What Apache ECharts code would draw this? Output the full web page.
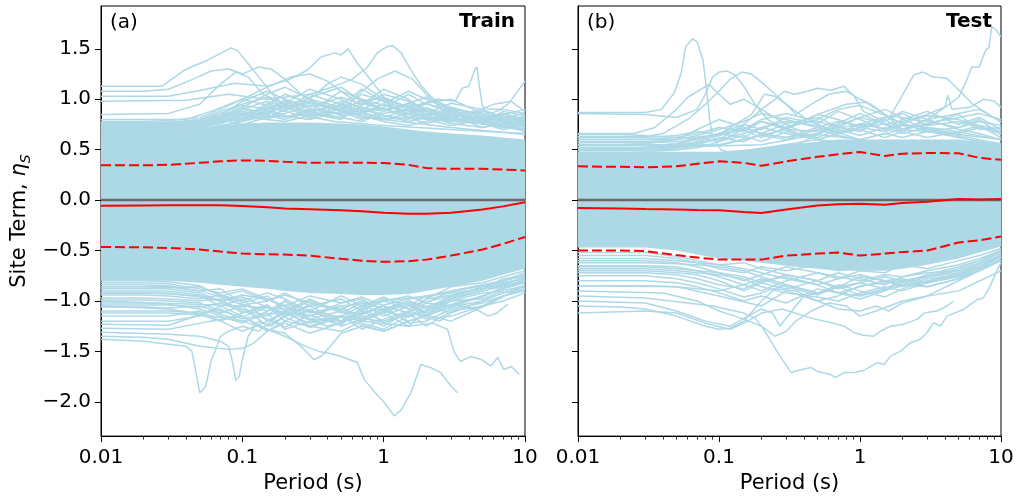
<!DOCTYPE html>
<html>
<head>
<meta charset="utf-8">
<script src="https://cdn.jsdelivr.net/npm/echarts@6/dist/echarts.min.js"></script>
<style>
  html, body { margin: 0; padding: 0; background: #fff; }
  #chart { width: 1018px; height: 499px; }
</style>
</head>
<body>
<div id="chart"></div>
<script>
// Shared period grid (s) used by the summary curves and the sampled site curves
const periods = [0.01, 0.02, 0.03, 0.05, 0.07, 0.1, 0.15, 0.2, 0.3, 0.5, 0.7, 1, 1.5, 2, 3, 5, 7, 10];

// Axis ticks
const xMajorTicks = [0.01, 0.1, 1, 10];
const xTickLabels = ['0.01', '0.1', '1', '10'];
const xMinorTicks = [0.02, 0.03, 0.04, 0.05, 0.06, 0.07, 0.08, 0.09,
                     0.2, 0.3, 0.4, 0.5, 0.6, 0.7, 0.8, 0.9,
                     2, 3, 4, 5, 6, 7, 8, 9];
const yTicks = [-2.0, -1.5, -1.0, -0.5, 0.0, 0.5, 1.0, 1.5];

// Panel (a): mean and mean ± one standard deviation
const trainMean  = [-0.055, -0.053, -0.052, -0.050, -0.052, -0.058, -0.070, -0.082, -0.090, -0.100, -0.110, -0.124, -0.135, -0.136, -0.125, -0.094, -0.062, -0.022];
const trainUpper = [0.345, 0.345, 0.350, 0.370, 0.385, 0.394, 0.390, 0.380, 0.370, 0.374, 0.370, 0.368, 0.350, 0.318, 0.310, 0.310, 0.303, 0.295];
const trainLower = [-0.464, -0.468, -0.474, -0.490, -0.510, -0.530, -0.537, -0.540, -0.550, -0.582, -0.600, -0.612, -0.606, -0.590, -0.550, -0.490, -0.434, -0.365];

// Panel (b): mean and mean ± one standard deviation
const testMean  = [-0.078, -0.082, -0.087, -0.092, -0.097, -0.100, -0.117, -0.127, -0.094, -0.054, -0.041, -0.037, -0.045, -0.028, -0.015, 0.010, 0.005, 0.011];
const testUpper = [0.335, 0.330, 0.325, 0.335, 0.360, 0.385, 0.370, 0.340, 0.385, 0.430, 0.455, 0.478, 0.437, 0.460, 0.467, 0.465, 0.420, 0.400];
const testLower = [-0.500, -0.500, -0.505, -0.545, -0.570, -0.590, -0.590, -0.590, -0.550, -0.530, -0.520, -0.550, -0.530, -0.515, -0.500, -0.420, -0.400, -0.360];

// Densely overlapped core of the site curves (upper / lower envelope)
const trainCoreTop    = [0.71, 0.71, 0.71, 0.72, 0.74, 0.76, 0.77, 0.77, 0.77, 0.76, 0.75, 0.73, 0.70, 0.68, 0.66, 0.64, 0.62, 0.60];
const trainCoreBottom = [-0.80, -0.80, -0.80, -0.82, -0.84, -0.86, -0.88, -0.90, -0.92, -0.93, -0.94, -0.94, -0.93, -0.90, -0.86, -0.80, -0.74, -0.68];
const testCoreTop     = [0.48, 0.48, 0.48, 0.48, 0.48, 0.48, 0.50, 0.52, 0.55, 0.58, 0.60, 0.60, 0.60, 0.60, 0.60, 0.60, 0.58, 0.55];
const testCoreBottom  = [-0.47, -0.47, -0.47, -0.50, -0.54, -0.58, -0.60, -0.62, -0.65, -0.68, -0.70, -0.70, -0.70, -0.68, -0.64, -0.58, -0.52, -0.46];

// Panel (a): individual site curves sampled on the period grid
const trainSites = [
  [0.77, 0.77, 0.77, 0.80, 0.88, 0.95, 1.02, 0.92, 0.98, 0.90, 1.05, 0.98, 0.85, 0.80, 0.85, 0.78, 0.80, 0.83],
  [0.74, 0.74, 0.75, 0.76, 0.80, 0.90, 0.86, 1.00, 0.92, 1.02, 0.95, 1.10, 1.00, 0.88, 0.78, 0.82, 0.85, 0.90],
  [0.72, 0.72, 0.72, 0.74, 0.78, 0.82, 0.96, 0.90, 1.05, 0.95, 0.88, 0.92, 1.05, 0.95, 0.90, 0.80, 0.75, 0.78],
  [0.70, 0.70, 0.70, 0.72, 0.82, 0.92, 0.85, 0.95, 0.88, 1.08, 1.00, 0.90, 0.85, 0.92, 0.82, 0.88, 0.82, 0.86],
  [0.73, 0.73, 0.74, 0.78, 0.86, 0.80, 0.94, 1.05, 0.96, 0.90, 0.98, 1.02, 0.92, 0.85, 0.88, 0.75, 0.78, 0.72],
  [0.71, 0.71, 0.71, 0.73, 0.76, 0.85, 0.92, 0.88, 0.82, 0.94, 1.10, 0.98, 0.90, 0.96, 0.86, 0.80, 0.86, 0.80],
  [0.75, 0.75, 0.76, 0.80, 0.84, 0.98, 1.08, 1.00, 0.90, 0.85, 0.92, 0.88, 0.96, 1.02, 0.92, 0.84, 0.80, 0.82],
  [0.69, 0.69, 0.70, 0.70, 0.74, 0.78, 0.84, 0.96, 1.10, 1.00, 0.90, 0.84, 0.80, 0.90, 0.80, 0.76, 0.88, 0.84],
  [0.72, 0.72, 0.72, 0.72, 0.78, 0.88, 0.82, 0.86, 0.94, 0.84, 0.86, 0.96, 1.08, 1.00, 0.90, 0.86, 0.80, 0.76],
  [0.70, 0.70, 0.70, 0.75, 0.82, 0.78, 0.90, 0.84, 0.80, 0.96, 0.88, 0.80, 0.82, 0.86, 0.96, 0.90, 0.82, 0.80],
  [0.68, 0.68, 0.69, 0.71, 0.72, 0.80, 0.88, 0.92, 0.86, 0.82, 0.78, 0.86, 0.90, 0.80, 0.74, 0.80, 0.72, 0.75],
  [0.70, 0.70, 0.71, 0.73, 0.80, 0.86, 0.80, 0.78, 0.84, 0.90, 0.84, 0.78, 0.74, 0.78, 0.84, 0.72, 0.76, 0.70],
  [0.78, 0.78, 0.79, 0.82, 0.90, 1.00, 0.94, 0.88, 1.02, 1.12, 0.98, 0.90, 0.94, 0.88, 0.80, 0.76, 0.72, 0.70],
  [0.74, 0.74, 0.74, 0.76, 0.84, 0.92, 1.05, 1.12, 1.00, 0.92, 0.86, 0.95, 0.88, 0.82, 0.92, 0.82, 0.86, 0.78],
  [0.72, 0.72, 0.73, 0.77, 0.80, 0.86, 0.90, 0.98, 0.86, 0.80, 0.94, 1.05, 0.98, 0.90, 0.84, 0.90, 0.80, 0.74],
  [0.71, 0.71, 0.71, 0.74, 0.80, 0.75, 0.82, 0.90, 0.98, 0.90, 0.82, 0.80, 0.86, 0.96, 1.00, 0.86, 0.78, 0.82],
  [0.76, 0.76, 0.76, 0.78, 0.82, 0.90, 0.98, 0.92, 0.86, 0.98, 0.92, 0.84, 0.78, 0.82, 0.78, 0.84, 0.90, 0.86],
  [0.70, 0.70, 0.70, 0.72, 0.76, 0.82, 0.88, 0.82, 0.90, 0.86, 0.96, 0.90, 0.82, 0.76, 0.82, 0.78, 0.74, 0.68],
  [0.73, 0.73, 0.73, 0.75, 0.78, 0.84, 0.80, 0.90, 0.96, 0.88, 0.80, 0.88, 0.96, 0.90, 0.86, 0.80, 0.84, 0.76],
  [0.75, 0.75, 0.75, 0.79, 0.86, 0.94, 0.90, 0.84, 0.80, 0.88, 1.00, 0.94, 0.86, 0.84, 0.76, 0.72, 0.76, 0.80],
  [0.71, 0.71, 0.72, 0.74, 0.78, 0.80, 0.86, 0.94, 0.88, 0.94, 0.86, 0.82, 0.90, 0.86, 0.78, 0.82, 0.78, 0.72],
  [0.74, 0.74, 0.74, 0.77, 0.82, 0.88, 0.84, 0.80, 0.88, 0.82, 0.90, 1.00, 0.92, 0.80, 0.86, 0.76, 0.70, 0.74],
  [-0.80, -0.80, -0.81, -0.85, -0.95, -0.90, -1.00, -0.92, -1.05, -0.98, -1.10, -1.00, -0.95, -1.02, -0.90, -0.85, -0.80, -0.72],
  [-0.84, -0.84, -0.85, -0.90, -0.88, -1.02, -0.95, -1.10, -0.98, -1.12, -1.02, -1.15, -1.05, -0.95, -0.92, -0.88, -0.78, -0.75],
  [-0.88, -0.88, -0.88, -0.92, -1.00, -1.08, -1.15, -1.00, -1.12, -1.05, -1.20, -1.10, -1.00, -1.08, -0.98, -0.90, -0.85, -0.80],
  [-0.92, -0.92, -0.93, -0.95, -1.05, -0.98, -1.20, -1.12, -1.22, -1.15, -1.05, -1.22, -1.12, -1.02, -1.05, -0.95, -0.88, -0.82],
  [-0.97, -0.97, -0.98, -1.00, -0.98, -1.12, -1.05, -1.20, -1.08, -1.25, -1.18, -1.08, -1.20, -1.15, -1.00, -0.92, -0.90, -0.85],
  [-1.02, -1.02, -1.03, -1.08, -1.15, -1.22, -1.10, -1.00, -1.18, -1.10, -1.22, -1.28, -1.15, -1.05, -1.12, -1.00, -0.92, -0.88],
  [-1.06, -1.06, -1.07, -1.05, -1.12, -1.05, -1.25, -1.15, -1.05, -1.20, -1.12, -1.05, -1.22, -1.20, -1.08, -1.02, -0.95, -0.90],
  [-1.10, -1.10, -1.10, -1.12, -1.08, -1.18, -1.12, -1.28, -1.20, -1.15, -1.28, -1.18, -1.10, -1.18, -1.15, -1.05, -1.00, -0.92],
  [-1.15, -1.15, -1.15, -1.10, -1.20, -1.30, -1.20, -1.10, -1.25, -1.30, -1.20, -1.12, -1.25, -1.10, -1.00, -0.98, -0.90, -0.85],
  [-1.20, -1.20, -1.20, -1.15, -1.05, -1.15, -1.30, -1.22, -1.32, -1.22, -1.10, -1.20, -1.12, -1.25, -1.10, -1.05, -0.95, -0.88],
  [-0.82, -0.82, -0.83, -0.88, -0.92, -0.88, -0.98, -1.05, -0.95, -1.02, -0.96, -1.05, -1.12, -0.98, -0.86, -0.82, -0.76, -0.70],
  [-0.86, -0.86, -0.87, -0.86, -0.94, -1.00, -0.92, -0.98, -1.10, -0.95, -1.05, -0.96, -1.08, -1.10, -0.95, -0.86, -0.82, -0.78],
  [-0.90, -0.90, -0.90, -0.94, -1.00, -0.96, -1.06, -1.14, -1.04, -1.08, -1.14, -1.04, -0.98, -0.96, -0.90, -0.84, -0.80, -0.74],
  [-0.94, -0.94, -0.95, -0.98, -0.94, -1.04, -1.10, -1.04, -1.15, -1.02, -0.98, -1.10, -1.16, -1.10, -0.98, -0.90, -0.84, -0.76],
  [-0.99, -0.99, -1.00, -1.02, -1.10, -1.16, -1.06, -1.12, -1.00, -1.10, -1.16, -1.12, -1.02, -1.12, -1.04, -0.96, -0.86, -0.80],
  [-1.04, -1.04, -1.04, -1.06, -1.02, -1.10, -1.18, -1.26, -1.14, -1.24, -1.06, -1.00, -1.08, -0.98, -0.94, -0.88, -0.82, -0.78],
  [-0.86, -0.86, -0.86, -0.90, -0.96, -1.04, -1.00, -0.94, -1.02, -1.08, -1.00, -1.08, -1.00, -1.06, -0.96, -0.90, -0.86, -0.80],
  [-1.12, -1.12, -1.12, -1.14, -1.20, -1.12, -1.04, -1.16, -1.26, -1.16, -1.24, -1.30, -1.20, -1.14, -1.06, -1.00, -0.92, -0.86],
  [-0.92, -0.92, -0.92, -0.96, -1.00, -0.94, -0.98, -1.06, -1.18, -1.20, -1.08, -0.98, -1.04, -1.14, -1.20, -1.06, -0.96, -0.84]
];

// Panel (a): strongly deviating site curves, [period, site term]
const trainOutliers = [
  [[0.01, 1.13], [0.027, 1.13], [0.039, 1.29], [0.057, 1.39], [0.067, 1.44], [0.083, 1.51], [0.093, 1.48], [0.109, 1.36], [0.136, 1.19], [0.168, 1.03], [0.21, 0.91], [0.29, 0.83], [0.45, 0.78], [1, 0.74], [3, 0.70], [10, 0.66]],
  [[0.01, 1.03], [0.03, 1.03], [0.051, 1.09], [0.088, 1.16], [0.15, 1.13], [0.21, 1.19], [0.29, 1.29], [0.36, 1.42], [0.45, 1.46], [0.5, 1.44], [0.56, 1.50], [0.65, 1.36], [0.77, 1.23], [0.91, 1.10], [1.12, 0.93], [1.5, 0.82], [3, 0.78], [10, 0.74]],
  [[0.01, 0.98], [0.04, 0.99], [0.08, 1.05], [0.15, 1.00], [0.3, 1.05], [0.45, 1.13], [0.6, 1.20], [0.77, 1.32], [0.9, 1.46], [1.05, 1.52], [1.16, 1.53], [1.33, 1.46], [1.56, 1.29], [1.83, 1.14], [2.15, 1.03], [2.53, 0.96], [3.16, 0.86], [5, 0.80], [10, 0.76]],
  [[0.01, 0.75], [0.1, 0.80], [0.3, 0.85], [1, 0.90], [1.8, 0.95], [2.4, 1.00], [3.2, 0.98], [3.6, 1.11], [4.0, 1.13], [4.4, 1.29], [4.57, 1.32], [4.75, 1.13], [5.0, 0.93], [5.6, 0.90], [6.7, 0.90], [7.7, 0.96], [10, 1.18]],
  [[0.01, 1.08], [0.02, 1.08], [0.03, 1.10], [0.045, 1.20], [0.06, 1.28], [0.08, 1.30], [0.1, 1.25], [0.13, 1.32], [0.16, 1.30], [0.2, 1.20], [0.26, 1.05], [0.35, 0.95], [0.5, 0.88], [1, 0.80], [3, 0.72], [10, 0.65]],
  [[0.01, 0.85], [0.03, 0.86], [0.05, 0.95], [0.07, 1.15], [0.09, 1.27], [0.11, 1.22], [0.14, 1.05], [0.2, 0.95], [0.3, 1.00], [0.4, 1.15], [0.5, 1.22], [0.7, 1.15], [1, 1.00], [1.5, 0.92], [3, 0.82], [10, 0.70]],
  [[0.01, 0.80], [0.04, 0.80], [0.06, 0.88], [0.1, 1.00], [0.15, 1.12], [0.22, 1.22], [0.3, 1.25], [0.4, 1.18], [0.6, 1.00], [0.9, 1.20], [1.2, 1.28], [1.6, 1.20], [2, 1.05], [2.6, 0.90], [4, 0.85], [6, 0.95], [8, 0.98], [10, 0.88]],
  [[0.01, -1.38], [0.02, -1.40], [0.03, -1.43], [0.04, -1.45], [0.044, -1.50], [0.05, -1.91], [0.055, -1.85], [0.06, -1.60], [0.065, -1.48], [0.07, -1.35], [0.08, -1.30], [0.1, -1.25], [0.13, -1.30], [0.16, -1.20], [0.2, -1.10], [0.3, -1.15], [0.5, -1.05], [1, -1.00], [2, -0.95], [5, -0.85], [10, -0.75]],
  [[0.01, -1.31], [0.03, -1.33], [0.05, -1.35], [0.07, -1.40], [0.08, -1.45], [0.085, -1.60], [0.09, -1.79], [0.095, -1.75], [0.1, -1.58], [0.11, -1.35], [0.13, -1.20], [0.16, -1.25], [0.2, -1.15], [0.3, -1.10], [0.5, -1.20], [0.8, -1.10], [1.5, -1.05], [3, -0.95], [10, -0.78]],
  [[0.01, -1.35], [0.02, -1.36], [0.03, -1.38], [0.05, -1.45], [0.08, -1.48], [0.1, -1.47], [0.12, -1.42], [0.15, -1.30], [0.2, -1.20], [0.3, -1.25], [0.5, -1.15], [1, -1.20], [2, -1.10], [5, -0.95], [10, -0.80]],
  [[0.01, -1.05], [0.03, -1.08], [0.06, -1.15], [0.1, -1.20], [0.15, -1.28], [0.2, -1.35], [0.28, -1.45], [0.35, -1.50], [0.42, -1.52], [0.5, -1.55], [0.65, -1.61], [0.73, -1.78], [0.91, -1.94], [1.0, -2.00], [1.19, -2.14], [1.33, -2.08], [1.56, -1.91], [1.83, -1.63], [2.15, -1.66], [2.53, -1.71], [2.98, -1.84], [3.33, -1.91]],
  [[0.01, -1.00], [0.1, -1.05], [0.3, -1.10], [0.7, -1.20], [1.5, -1.25], [2.2, -1.22], [2.83, -1.28], [3.16, -1.51], [3.5, -1.60], [4.15, -1.55], [4.9, -1.58], [5.75, -1.645], [6.4, -1.56], [7.1, -1.68], [8.0, -1.65], [9.1, -1.73]],
  [[0.01, -1.27], [0.03, -1.28], [0.06, -1.20], [0.1, -1.15], [0.15, -1.28], [0.2, -1.32], [0.26, -1.45], [0.32, -1.58], [0.36, -1.55], [0.42, -1.45], [0.5, -1.32], [0.7, -1.25], [1, -1.30], [1.5, -1.20], [2.5, -1.10], [5, -0.95], [10, -0.80]],
  [[0.01, -1.23], [0.03, -1.24], [0.06, -1.10], [0.1, -1.20], [0.2, -1.10], [0.4, -1.25], [0.7, -1.15], [1, -1.25], [1.5, -1.10], [2.5, -1.20], [3.5, -1.05], [4.5, -1.08], [5.5, -1.15], [6.3, -1.12], [7.6, -1.03]]
];

// Panel (b): individual site curves sampled on the period grid
const testSites = [
  [0.60, 0.60, 0.60, 0.62, 0.66, 0.72, 0.68, 0.78, 0.72, 0.85, 0.80, 0.72, 0.80, 0.70, 0.75, 0.85, 0.70, 0.72],
  [0.57, 0.57, 0.57, 0.58, 0.60, 0.66, 0.75, 0.70, 0.82, 0.76, 0.88, 0.80, 0.70, 0.76, 0.68, 0.72, 0.80, 0.65],
  [0.52, 0.52, 0.52, 0.55, 0.62, 0.58, 0.70, 0.78, 0.70, 0.68, 0.76, 0.86, 0.75, 0.68, 0.80, 0.70, 0.66, 0.60],
  [0.50, 0.50, 0.50, 0.50, 0.55, 0.62, 0.58, 0.66, 0.76, 0.82, 0.72, 0.68, 0.82, 0.86, 0.74, 0.78, 0.72, 0.68],
  [0.55, 0.55, 0.56, 0.60, 0.70, 0.80, 0.72, 0.66, 0.62, 0.72, 0.66, 0.76, 0.70, 0.80, 0.88, 0.75, 0.82, 0.70],
  [0.47, 0.47, 0.48, 0.50, 0.52, 0.58, 0.64, 0.58, 0.68, 0.62, 0.70, 0.64, 0.72, 0.66, 0.72, 0.64, 0.60, 0.56],
  [0.65, 0.65, 0.64, 0.62, 0.60, 0.66, 0.62, 0.72, 0.66, 0.60, 0.66, 0.70, 0.62, 0.68, 0.62, 0.68, 0.74, 0.62],
  [0.50, 0.50, 0.50, 0.52, 0.56, 0.54, 0.60, 0.64, 0.60, 0.70, 0.64, 0.60, 0.66, 0.62, 0.68, 0.62, 0.58, 0.52],
  [0.62, 0.62, 0.62, 0.64, 0.68, 0.64, 0.70, 0.80, 0.86, 0.78, 0.72, 0.82, 0.90, 0.82, 0.78, 0.72, 0.78, 0.74],
  [0.54, 0.54, 0.54, 0.56, 0.60, 0.66, 0.70, 0.62, 0.72, 0.80, 0.90, 0.94, 0.84, 0.76, 0.84, 0.80, 0.74, 0.70],
  [0.58, 0.58, 0.58, 0.60, 0.64, 0.70, 0.78, 0.86, 0.80, 0.72, 0.78, 0.74, 0.78, 0.88, 0.80, 0.86, 0.90, 0.78],
  [0.49, 0.49, 0.50, 0.52, 0.58, 0.64, 0.72, 0.66, 0.62, 0.66, 0.74, 0.82, 0.76, 0.70, 0.76, 0.82, 0.86, 0.80],
  [0.52, 0.52, 0.52, 0.54, 0.56, 0.60, 0.66, 0.72, 0.78, 0.74, 0.68, 0.72, 0.68, 0.74, 0.70, 0.66, 0.72, 0.66],
  [-0.55, -0.55, -0.55, -0.58, -0.62, -0.68, -0.72, -0.66, -0.70, -0.64, -0.70, -0.66, -0.62, -0.66, -0.60, -0.56, -0.50, -0.45],
  [-0.60, -0.60, -0.60, -0.62, -0.66, -0.72, -0.80, -0.74, -0.66, -0.72, -0.78, -0.70, -0.72, -0.64, -0.68, -0.60, -0.55, -0.48],
  [-0.65, -0.65, -0.65, -0.66, -0.70, -0.76, -0.84, -0.90, -0.80, -0.72, -0.76, -0.80, -0.74, -0.76, -0.70, -0.64, -0.58, -0.50],
  [-0.70, -0.70, -0.70, -0.72, -0.74, -0.80, -0.90, -0.82, -0.88, -0.80, -0.72, -0.78, -0.84, -0.76, -0.72, -0.70, -0.62, -0.52],
  [-0.75, -0.75, -0.75, -0.78, -0.82, -0.88, -0.96, -0.92, -0.84, -0.92, -0.86, -0.76, -0.80, -0.86, -0.78, -0.74, -0.66, -0.56],
  [-0.80, -0.80, -0.80, -0.82, -0.86, -0.92, -1.00, -0.95, -1.02, -0.88, -0.92, -0.98, -0.90, -0.84, -0.86, -0.78, -0.70, -0.58],
  [-0.62, -0.62, -0.62, -0.63, -0.64, -0.66, -0.70, -0.76, -0.84, -0.92, -0.84, -0.90, -0.96, -0.88, -0.80, -0.74, -0.68, -0.56],
  [-0.58, -0.58, -0.58, -0.60, -0.62, -0.64, -0.62, -0.68, -0.74, -0.80, -0.88, -0.82, -0.76, -0.80, -0.86, -0.78, -0.66, -0.54],
  [-0.68, -0.68, -0.68, -0.70, -0.72, -0.74, -0.78, -0.86, -0.92, -0.96, -1.00, -0.92, -0.86, -0.90, -0.82, -0.76, -0.70, -0.60],
  [-0.52, -0.52, -0.52, -0.56, -0.60, -0.64, -0.68, -0.72, -0.78, -0.84, -0.78, -0.74, -0.80, -0.84, -0.76, -0.68, -0.60, -0.50],
  [-0.72, -0.72, -0.72, -0.74, -0.78, -0.84, -0.88, -0.80, -0.76, -0.84, -0.92, -0.86, -0.80, -0.78, -0.82, -0.72, -0.64, -0.54],
  [-0.85, -0.85, -0.85, -0.86, -0.88, -0.90, -0.84, -0.78, -0.86, -0.94, -0.86, -0.82, -0.88, -0.80, -0.76, -0.72, -0.66, -0.56],
  [-0.66, -0.66, -0.66, -0.68, -0.70, -0.72, -0.76, -0.82, -0.74, -0.80, -0.86, -0.94, -0.88, -0.82, -0.74, -0.66, -0.60, -0.52]
];

// Panel (b): strongly deviating site curves, [period, site term]
const testOutliers = [
  [[0.01, 0.87], [0.03, 0.87], [0.039, 0.90], [0.048, 1.06], [0.054, 1.26], [0.058, 1.52], [0.065, 1.60], [0.07, 1.57], [0.077, 1.39], [0.081, 1.13], [0.086, 0.80], [0.09, 0.63], [0.103, 0.50], [0.15, 0.42], [0.3, 0.35], [1, 0.30], [3, 0.35], [10, 0.30]],
  [[0.01, 0.86], [0.03, 0.85], [0.05, 0.82], [0.07, 0.90], [0.08, 1.05], [0.09, 1.22], [0.1, 1.27], [0.115, 1.28], [0.13, 1.24], [0.15, 1.13], [0.18, 0.95], [0.22, 0.80], [0.3, 0.70], [0.5, 0.60], [1, 0.50], [3, 0.45], [10, 0.40]],
  [[0.01, 0.63], [0.03, 0.63], [0.04, 0.66], [0.06, 0.80], [0.08, 0.95], [0.1, 1.08], [0.12, 1.20], [0.145, 1.27], [0.17, 1.25], [0.2, 1.17], [0.25, 1.05], [0.3, 0.95], [0.4, 0.82], [0.6, 0.70], [1, 0.60], [2, 0.50], [10, 0.45]],
  [[0.01, 0.66], [0.025, 0.66], [0.035, 0.72], [0.05, 0.90], [0.06, 1.02], [0.075, 1.10], [0.085, 1.15], [0.1, 1.05], [0.12, 0.95], [0.15, 1.00], [0.2, 0.90], [0.3, 0.75], [0.5, 0.60], [1, 0.55], [3, 0.50], [10, 0.45]],
  [[0.01, 0.55], [0.05, 0.55], [0.1, 0.60], [0.15, 0.75], [0.2, 0.90], [0.25, 1.00], [0.29, 1.08], [0.34, 1.05], [0.4, 1.07], [0.5, 1.11], [0.62, 1.09], [0.77, 1.13], [0.91, 1.03], [1.06, 0.88], [1.33, 0.81], [1.8, 0.83], [3, 0.70], [6, 0.60], [10, 0.55]],
  [[0.01, 0.60], [0.05, 0.60], [0.1, 0.65], [0.17, 0.85], [0.21, 1.05], [0.25, 1.03], [0.3, 0.95], [0.35, 0.85], [0.45, 0.95], [0.6, 1.05], [0.8, 1.08], [1, 1.00], [1.2, 0.95], [1.5, 0.85], [2, 0.75], [4, 0.70], [10, 0.60]],
  [[0.01, 0.30], [0.1, 0.35], [0.3, 0.50], [0.6, 0.70], [1, 0.75], [1.3, 0.80], [1.64, 0.83], [2.04, 1.06], [2.4, 1.24], [2.8, 1.27], [3.3, 1.22], [4.1, 1.21], [4.8, 1.12], [6.2, 0.96], [8.6, 0.83], [10, 0.77]],
  [[0.01, 0.40], [0.1, 0.45], [0.5, 0.60], [1, 0.72], [2, 0.78], [3, 0.85], [4.1, 0.93], [5.0, 1.02], [5.6, 1.16], [6.2, 1.32], [7.0, 1.32], [7.8, 1.49], [8.2, 1.51], [8.6, 1.72], [9.2, 1.69], [10, 1.62]],
  [[0.01, 0.50], [0.2, 0.55], [0.5, 0.65], [1, 0.60], [2, 0.70], [3, 0.80], [4, 0.92], [4.2, 1.04], [4.5, 0.90], [6, 0.92], [7.5, 1.00], [9, 0.98], [10, 0.92]],
  [[0.01, 0.50], [0.1, 0.55], [0.3, 0.70], [0.5, 0.85], [0.8, 0.95], [1.1, 0.97], [1.5, 0.85], [2, 0.70], [5, 0.65], [10, 0.60]],
  [[0.01, -0.95], [0.03, -0.97], [0.06, -1.02], [0.09, -1.05], [0.15, -1.12], [0.18, -1.17], [0.2, -1.25], [0.23, -1.38], [0.26, -1.51], [0.325, -1.71], [0.36, -1.69], [0.45, -1.66], [0.5, -1.70], [0.62, -1.73], [0.67, -1.76], [0.77, -1.71], [0.91, -1.71], [1.06, -1.69], [1.33, -1.61], [1.48, -1.63], [1.64, -1.55], [1.93, -1.50], [2.28, -1.415], [2.68, -1.38], [2.98, -1.315], [3.33, -1.215], [3.71, -1.25], [4.15, -1.15], [5.4, -1.085], [6.8, -0.985], [7.5, -0.97], [8.4, -0.85], [9.4, -0.69], [10, -0.62]],
  [[0.01, -1.12], [0.03, -1.10], [0.05, -1.12], [0.08, -1.22], [0.12, -1.28], [0.16, -1.20], [0.2, -1.12], [0.28, -1.08], [0.45, -1.17], [0.65, -1.22], [0.77, -1.25], [0.91, -1.315], [1.06, -1.34], [1.25, -1.35], [1.4, -1.30], [1.64, -1.25], [2.05, -1.23], [2.55, -1.18], [2.85, -1.12], [3.5, -1.10], [4.15, -1.05], [4.6, -1.00]],
  [[0.01, -1.05], [0.02, -1.06], [0.03, -1.08], [0.05, -1.15], [0.08, -1.25], [0.1, -1.28], [0.12, -1.27], [0.15, -1.20], [0.2, -1.00], [0.25, -0.88], [0.35, -0.90], [0.5, -1.00], [0.7, -0.95], [1, -0.85], [2, -0.80], [5, -0.70], [10, -0.55]],
  [[0.01, -1.00], [0.03, -1.02], [0.05, -1.10], [0.08, -1.20], [0.12, -1.25], [0.16, -1.15], [0.2, -1.08], [0.24, -1.12], [0.27, -1.25], [0.32, -1.12], [0.4, -0.95], [0.6, -0.90], [1, -0.95], [2, -0.85], [5, -0.75], [10, -0.60]],
  [[0.01, -0.90], [0.04, -0.92], [0.07, -1.00], [0.1, -1.10], [0.15, -1.18], [0.2, -1.25], [0.25, -1.35], [0.3, -1.30], [0.35, -1.20], [0.45, -1.10], [0.6, -1.02], [0.8, -1.05], [1, -1.15], [1.3, -1.10], [2, -1.00], [3, -0.95], [5, -0.80], [10, -0.60]],
  [[0.01, -0.85], [0.05, -0.86], [0.1, -0.95], [0.2, -1.05], [0.3, -0.90], [0.5, -1.00], [0.7, -1.08], [1, -1.10], [1.3, -1.05], [1.6, -1.10], [2, -1.02], [3, -0.95], [5, -0.90], [10, -0.70]]
];

const FONT = 'DejaVu Sans';
const SITE_COLOR = '#ADD8E6';

const chart = echarts.init(document.getElementById('chart'), null, { renderer: 'canvas' });

function pairs(values) {
  return periods.map((p, i) => [p, values[i]]);
}

function siteLine(xi, yi, data) {
  return {
    type: 'line', xAxisIndex: xi, yAxisIndex: yi, data: data,
    symbol: 'none', silent: true, z: 2,
    lineStyle: { color: SITE_COLOR, width: 1.5 }
  };
}

// Filled envelope of the heavily overlapped curves
function coreBand(xi, yi, top, bottom) {
  return {
    type: 'custom', xAxisIndex: xi, yAxisIndex: yi, silent: true, z: 1,
    data: [[periods[0], top[0]]],
    renderItem: function (params, api) {
      const pts = [];
      for (let i = 0; i < periods.length; i++) pts.push(api.coord([periods[i], top[i]]));
      for (let i = periods.length - 1; i >= 0; i--) pts.push(api.coord([periods[i], bottom[i]]));
      return { type: 'polygon', shape: { points: pts }, style: { fill: SITE_COLOR } };
    }
  };
}

function zeroLine(xi, yi) {
  return {
    type: 'line', xAxisIndex: xi, yAxisIndex: yi, data: [[0.01, 0], [10, 0]],
    symbol: 'none', silent: true, z: 3,
    lineStyle: { color: '#696969', width: 2.5 }
  };
}

function statLine(xi, yi, values, dashed) {
  return {
    type: 'line', xAxisIndex: xi, yAxisIndex: yi, data: pairs(values),
    symbol: 'none', silent: true, z: 4,
    lineStyle: { color: '#ff0000', width: 2, type: dashed ? [10, 4] : 'solid' }
  };
}

function panelSeries(xi, yi, coreTop, coreBottom, sites, outliers, mean, upper, lower) {
  const s = [coreBand(xi, yi, coreTop, coreBottom)];
  sites.forEach(v => s.push(siteLine(xi, yi, pairs(v))));
  outliers.forEach(d => s.push(siteLine(xi, yi, d)));
  s.push(zeroLine(xi, yi));
  s.push(statLine(xi, yi, mean, false));
  s.push(statLine(xi, yi, upper, true));
  s.push(statLine(xi, yi, lower, true));
  return s;
}

function majorX(gi) {
  return {
    type: 'log', logBase: 10, gridIndex: gi, min: 0.01, max: 10, position: 'bottom',
    name: 'Period (s)', nameLocation: 'middle', nameGap: 36,
    nameTextStyle: { fontFamily: FONT, fontSize: 21, color: '#000' },
    axisLine: { show: true, onZero: false, lineStyle: { color: '#000', width: 1 } },
    axisTick: { show: true, length: 6, lineStyle: { color: '#000', width: 1 } },
    axisLabel: {
      fontFamily: FONT, fontSize: 20, color: '#000', margin: 12,
      formatter: function (v) {
        const k = xMajorTicks.findIndex(t => Math.abs(Math.log10(t) - Math.log10(v)) < 1e-6);
        return k >= 0 ? xTickLabels[k] : '';
      }
    },
    splitLine: { show: false }, minorTick: { show: false }
  };
}

// Minor ticks of the log axis, placed on a companion axis measured in decades
function minorX(gi) {
  return {
    type: 'value', gridIndex: gi, min: -2, max: 1, position: 'bottom',
    axisLine: { show: false, onZero: false },
    axisTick: { show: true, length: 3.5, customValues: xMinorTicks.map(Math.log10), lineStyle: { color: '#000', width: 0.8 } },
    axisLabel: { show: false },
    splitLine: { show: false }
  };
}

function yAxisFor(gi, showLabels) {
  return {
    type: 'value', gridIndex: gi, min: -2.34, max: 1.925, position: 'left',
    name: showLabels ? 'Site Term, {it|η}{sub|S}' : '',
    nameLocation: 'middle', nameRotate: 90, nameGap: 68,
    nameTextStyle: {
      fontFamily: FONT, fontSize: 21, color: '#000', lineHeight: 26,
      rich: {
        it: { fontFamily: FONT, fontSize: 21, fontStyle: 'italic', color: '#000', lineHeight: 26 },
        sub: { fontFamily: FONT, fontSize: 14, fontStyle: 'italic', color: '#000', verticalAlign: 'bottom', lineHeight: 14 }
      }
    },
    axisLine: { show: true, onZero: false, lineStyle: { color: '#000', width: 1 } },
    axisTick: { show: true, length: 6, customValues: yTicks, lineStyle: { color: '#000', width: 1 } },
    axisLabel: {
      show: showLabels, customValues: yTicks, fontFamily: FONT, fontSize: 20, color: '#000', margin: 10,
      formatter: v => v.toFixed(1).replace('-', '\u2212')
    },
    splitLine: { show: false }
  };
}

const option = {
  animation: false,
  backgroundColor: '#fff',
  grid: [
    { left: 101, top: 6, width: 424, height: 431, show: true, borderColor: '#000', borderWidth: 1, backgroundColor: 'transparent' },
    { left: 578, top: 6, width: 423, height: 431, show: true, borderColor: '#000', borderWidth: 1, backgroundColor: 'transparent' }
  ],
  xAxis: [majorX(0), minorX(0), majorX(1), minorX(1)],
  yAxis: [yAxisFor(0, true), yAxisFor(1, false)],
  graphic: [
    { type: 'text', left: 110, top: 13, style: { text: '(a)', fontFamily: FONT, fontSize: 20, fill: '#000' } },
    { type: 'text', right: 1018 - 515, top: 12, style: { text: 'Train', fontFamily: FONT, fontSize: 20, fontWeight: 'bold', fill: '#000' } },
    { type: 'text', left: 587, top: 13, style: { text: '(b)', fontFamily: FONT, fontSize: 20, fill: '#000' } },
    { type: 'text', right: 1018 - 992, top: 12, style: { text: 'Test', fontFamily: FONT, fontSize: 20, fontWeight: 'bold', fill: '#000' } }
  ],
  series: [].concat(
    panelSeries(0, 0, trainCoreTop, trainCoreBottom, trainSites, trainOutliers, trainMean, trainUpper, trainLower),
    panelSeries(2, 1, testCoreTop, testCoreBottom, testSites, testOutliers, testMean, testUpper, testLower)
  )
};

chart.setOption(option);
</script>
</body>
</html>
